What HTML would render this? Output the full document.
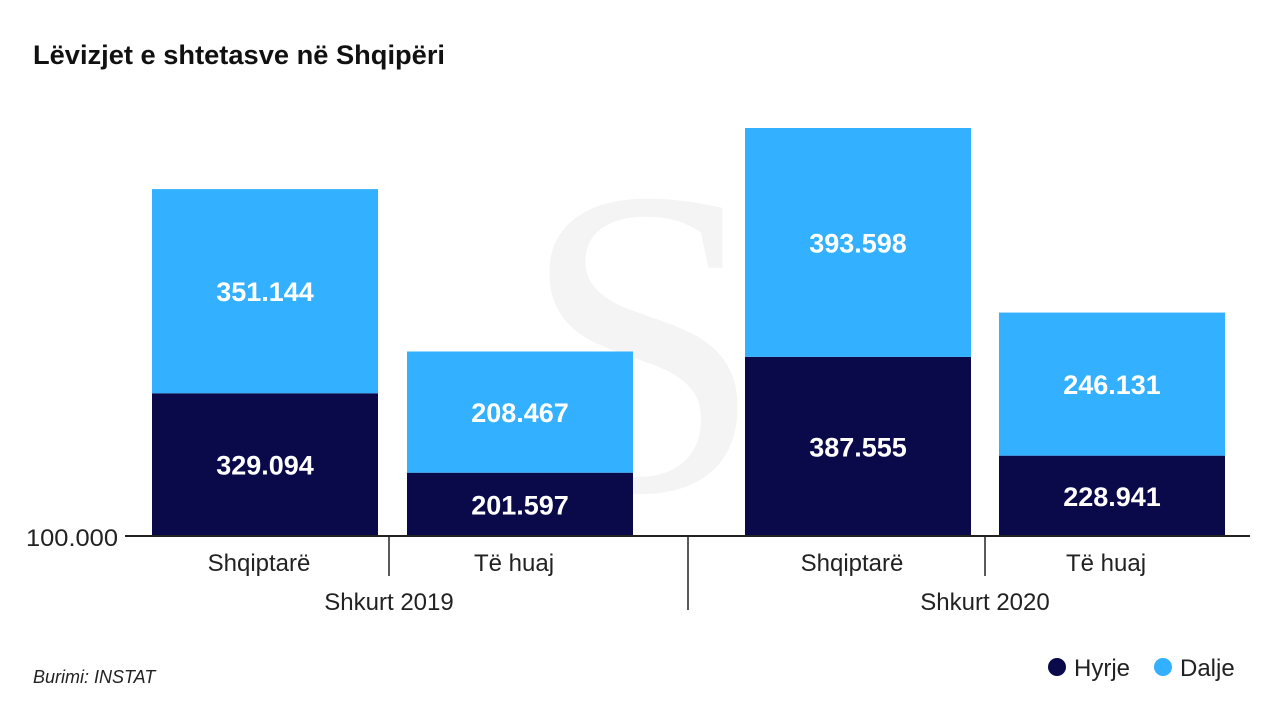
<!DOCTYPE html>
<html><head><meta charset="utf-8"><style>
body{margin:0;background:#fff;width:1280px;height:720px;overflow:hidden;font-family:"Liberation Sans",sans-serif}
</style></head><body>
<svg width="1280" height="720">
<text x="33" y="64" font-size="27" font-weight="bold" fill="#111" textLength="412" lengthAdjust="spacingAndGlyphs">Lëvizjet e shtetasve në Shqipëri</text>
<text x="520" y="490" font-size="440" font-family="Liberation Serif" fill="#000" opacity="0.04">Si</text>
<g id="bars"></g>
<line x1="125" y1="536" x2="1250" y2="536" stroke="#222" stroke-width="2"/>
<text x="118" y="546" font-size="24" text-anchor="end" fill="#222" textLength="92" lengthAdjust="spacingAndGlyphs">100.000</text>
<line x1="389" y1="536" x2="389" y2="576" stroke="#222" stroke-width="1.5"/>
<line x1="688" y1="536" x2="688" y2="610" stroke="#222" stroke-width="1.5"/>
<line x1="985" y1="536" x2="985" y2="576" stroke="#222" stroke-width="1.5"/>
<g id="labels" font-size="24" fill="#222" text-anchor="middle"></g>
<text x="389" y="610" font-size="24" text-anchor="middle" fill="#222">Shkurt 2019</text>
<text x="985" y="610" font-size="24" text-anchor="middle" fill="#222">Shkurt 2020</text>
<text x="33" y="683" font-size="18" font-style="italic" fill="#222">Burimi: INSTAT</text>
<circle cx="1057" cy="667" r="9" fill="#0a0a4a"/>
<text x="1074" y="676" font-size="24" fill="#222">Hyrje</text>
<circle cx="1163" cy="667" r="9" fill="#33b0ff"/>
<text x="1180" y="676" font-size="24" fill="#222">Dalje</text>
</svg>
<script>
const categories=["Shqiptarë","Të huaj","Shqiptarë","Të huaj"];
const hyrje=[329094,201597,387555,228941];
const dalje=[351144,208467,393598,246131];
const barX=[152,407,745,999];
const NS="http://www.w3.org/2000/svg";
const base=536,minV=100000,kH=1605,kD=1720,bw=226;
function yH(v){return base-(v-minV)/kH;}
function hD(v){return v/kD;}
function fmt(v){return String(v).replace(/\B(?=(\d{3})+(?!\d))/g,".");}
const g=document.getElementById('bars'),lg=document.getElementById('labels');
function mk(tag,attrs,parent){const e=document.createElementNS(NS,tag);for(const a in attrs)e.setAttribute(a,attrs[a]);parent.appendChild(e);return e;}
categories.forEach((c,i)=>{
  const x=barX[i],yh=yH(hyrje[i]),yt=yh-hD(dalje[i]);
  const r1=mk('rect',{x:x,y:yh,width:bw,height:base-yh,fill:'#0a0a4a'},g);
  
  
  const r2=mk('rect',{x:x,y:yt,width:bw,height:yh-yt,fill:'#33b0ff'},g);
  
  
  const t1=mk('text',{x:x+bw/2,y:(yh+base)/2+10,'font-size':27,'font-weight':'bold',fill:'#fff','text-anchor':'middle'},g);
  t1.textContent=fmt(hyrje[i]);
  
  
  const t2=mk('text',{x:x+bw/2,y:(yt+yh)/2+10,'font-size':27,'font-weight':'bold',fill:'#fff','text-anchor':'middle'},g);
  t2.textContent=fmt(dalje[i]);
  
  
  const t3=mk('text',{x:x+bw/2-6,y:571},lg);
  t3.textContent=c;
  
  
});
</script>
</body></html>
